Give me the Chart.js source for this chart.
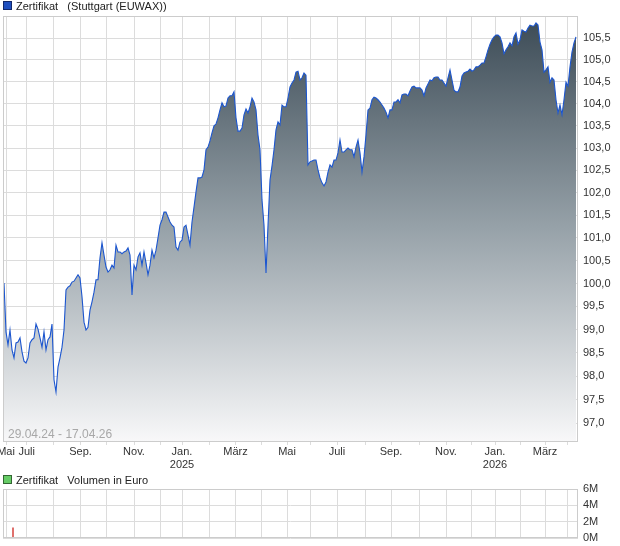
<!DOCTYPE html>
<html>
<head>
<meta charset="utf-8">
<script src="https://cdn.jsdelivr.net/npm/chart.js@4.4.0/dist/chart.umd.min.js"></script>
<style>
  body { margin: 0; background: #fff; font-family: "Liberation Sans", Arial, sans-serif; }
  #wrap { position: relative; width: 620px; height: 546px; overflow: hidden; }
  .legend { position: absolute; left: 3px; font-size: 11px; color: #222; white-space: pre; z-index: 2; }
  .box { display: inline-block; width: 7px; height: 7px; border: 1px solid #333; vertical-align: 0px; margin-right: 4px; }
  canvas { position: absolute; left: 0; }
</style>
</head>
<body>
<div id="wrap">
  <div class="legend" style="top:0px"><span class="box" style="background:#1f4fbf;border-color:#13286a"></span>Zertifikat   (Stuttgart (EUWAX))</div>
  <canvas id="main" width="620" height="472" style="top:0"></canvas>
  <div class="legend" style="top:474px"><span class="box" style="background:#66cc66;border-color:#336633"></span>Zertifikat   Volumen in Euro</div>
  <canvas id="vol" width="620" height="68" style="top:478px"></canvas>
</div>
<script>
// price series, one value every ~2 trading days, 29.04.24 - 17.04.26
const priceValues = [
  100.01, 98.95, 98.67, 98.99, 98.56, 98.39, 98.71, 98.73, 98.82, 98.52,
  98.32, 98.28, 98.39, 98.71, 98.78, 98.82, 99.12, 99.01, 98.82, 98.62,
  98.95, 98.56, 98.78, 98.84, 99.12, 97.92, 97.66, 98.19, 98.39, 98.62,
  98.99, 99.86, 99.92, 99.95, 100.03, 100.05, 100.12, 100.19, 100.12, 99.71,
  99.16, 98.99, 99.05, 99.42, 99.60, 99.81, 100.08, 100.08, 100.56, 100.89,
  100.62, 100.36, 100.25, 100.30, 100.40, 100.34, 100.84, 100.69, 100.69, 100.65,
  100.69, 100.71, 100.78, 100.62, 99.75, 100.40, 100.30, 100.58, 100.67, 100.40,
  100.69, 100.45, 100.19, 100.40, 100.73, 100.56, 100.73, 101.00, 101.28, 101.40,
  101.57, 101.57, 101.46, 101.35, 101.28, 101.24, 100.80, 100.73, 100.91, 100.95,
  101.24, 101.28, 101.06, 100.84, 101.35, 101.68, 102.02, 102.33, 102.33, 102.35,
  102.51, 102.96, 103.02, 103.16, 103.34, 103.50, 103.54, 103.68, 103.86, 104.02,
  103.93, 103.95, 104.13, 104.18, 104.18, 104.27, 103.68, 103.38, 103.38, 103.45,
  103.75, 103.88, 103.79, 103.93, 104.13, 104.04, 103.86, 103.29, 102.96, 101.84,
  101.28, 100.23, 101.28, 102.28, 102.60, 102.96, 103.41, 103.59, 103.52, 103.97,
  103.93, 103.93, 104.13, 104.38, 104.47, 104.54, 104.72, 104.74, 104.54, 104.59,
  104.70, 104.65, 102.62, 102.69, 102.71, 102.73, 102.73, 102.51, 102.33, 102.22,
  102.15, 102.24, 102.46, 102.62, 102.57, 102.73, 102.73, 102.89, 103.18, 102.91,
  102.91, 102.96, 103.00, 102.96, 102.96, 102.80, 103.02, 103.18, 102.89, 102.46,
  102.80, 103.29, 103.86, 103.90, 104.09, 104.15, 104.13, 104.09, 104.04, 103.97,
  103.90, 103.81, 103.68, 103.86, 103.86, 104.04, 104.04, 104.09, 104.02, 104.20,
  104.22, 104.22, 104.18, 104.29, 104.38, 104.40, 104.36, 104.36, 104.36, 104.31,
  104.18, 104.36, 104.45, 104.54, 104.52, 104.59, 104.61, 104.61, 104.54, 104.54,
  104.47, 104.40, 104.59, 104.77, 104.54, 104.31, 104.27, 104.27, 104.38, 104.63,
  104.70, 104.72, 104.74, 104.79, 104.74, 104.77, 104.84, 104.84, 104.88, 104.93,
  104.93, 105.07, 105.23, 105.36, 105.46, 105.53, 105.57, 105.57, 105.53, 105.39,
  105.14, 105.23, 105.30, 105.39, 105.32, 105.53, 105.62, 105.36, 105.46, 105.69,
  105.66, 105.64, 105.73, 105.80, 105.78, 105.78, 105.85, 105.80, 105.41, 105.23,
  104.72, 104.77, 104.84, 104.49, 104.59, 104.54, 104.09, 103.79, 103.97, 103.75,
  104.09, 104.49, 104.40, 104.84, 105.18, 105.39, 105.53
];

// month starts on the same index axis
const monthTicks = [1, 11.35, 24.75, 38.25, 51.25, 65, 78.25, 89, 102.75, 115.75, 128.5,
  141.5, 153.5, 166.5, 180.5, 193.5, 207.5, 221, 233.5, 245.5, 258, 270.5, 281.5];
const monthLabels = ['Mai', 'Juli', '', 'Sep.', '', 'Nov.', '', ['Jan.', '2025'], '', 'März', '',
  'Mai', '', 'Juli', '', 'Sep.', '', 'Nov.', '', ['Jan.', '2026'], '', 'März', ''];

const priceTicks = [97.0, 97.5, 98.0, 98.5, 99.0, 99.5, 100.0, 100.5, 101.0, 101.5, 102.0,
  102.5, 103.0, 103.5, 104.0, 104.5, 105.0, 105.5];

const volumeDays = [4.5];
const volumeValues = [1250000];
const volumeTicks = [0, 2000000, 4000000, 6000000];

const FONT = { family: '"Liberation Sans", Arial, sans-serif', size: 11 };
const GRID = '#dcdcdc';

Chart.defaults.animation = false;

const frame = {
  id: 'frame',
  afterDraw(chart, args, opts) {
    const a = chart.chartArea, c = chart.ctx;
    c.save();
    c.strokeStyle = '#cccccc';
    c.lineWidth = 1;
    c.strokeRect(Math.round(a.left) + 0.5, Math.round(a.top) + 0.5,
      Math.round(a.right - a.left) - 1, Math.round(a.bottom - a.top) - 1);
    if (opts.text) {
      c.fillStyle = '#a8a8a8';
      c.font = '12px "Liberation Sans", Arial, sans-serif';
      c.textBaseline = 'alphabetic';
      c.fillText(opts.text, a.left + 5, a.bottom - 4);
    }
    c.restore();
  }
};

const xAxis = (showLabels) => ({
  type: 'linear',
  min: -0.5,
  max: 287,
  offset: false,
  afterBuildTicks: s => { s.ticks = monthTicks.map(v => ({ value: v })); },
  afterFit: s => { s.paddingLeft = 0; s.paddingRight = 0; s.height = showLabels ? 30 : 0; },
  ticks: {
    display: showLabels, autoSkip: false, maxRotation: 0, minRotation: 0,
    color: '#333', font: FONT, padding: 0,
    callback: (v, i) => monthLabels[i]
  },
  grid: { color: GRID, drawTicks: showLabels, tickLength: 3, offset: false },
  border: { display: false }
});

new Chart(document.getElementById('main'), {
  type: 'line',
  data: {
    datasets: [{
      data: priceValues.map((v, i) => ({ x: i, y: v })),
      borderColor: '#1c56cf',
      borderWidth: 1.1,
      pointRadius: 0,
      tension: 0,
      fill: 'start',
      backgroundColor: ctx => {
        const a = ctx.chart.chartArea;
        if (!a) return '#8a969e';
        const g = ctx.chart.ctx.createLinearGradient(0, a.top, 0, a.bottom);
        g.addColorStop(0, '#3b4a55');
        g.addColorStop(0.5, '#97a2a9');
        g.addColorStop(1, '#f8f8f9');
        return g;
      }
    }]
  },
  options: {
    responsive: false,
    devicePixelRatio: 1,
    layout: { padding: { left: 3, top: 16, right: 0, bottom: 0 } },
    plugins: { legend: { display: false }, tooltip: { enabled: false }, frame: { text: '29.04.24 - 17.04.26' } },
    scales: {
      x: xAxis(true),
      y: {
        type: 'logarithmic',
        position: 'right',
        min: 96.60,
        max: 106.01,
        afterBuildTicks: s => { s.ticks = priceTicks.map(v => ({ value: v })); },
        afterFit: s => { s.width = 42; s.paddingTop = 0; s.paddingBottom = 0; },
        ticks: {
          color: '#333', font: FONT, padding: 5,
          callback: v => Number(v).toFixed(1).replace('.', ',')
        },
        grid: { color: GRID, drawTicks: false },
        border: { display: false }
      }
    }
  },
  plugins: [frame]
});

new Chart(document.getElementById('vol'), {
  type: 'bar',
  data: {
    datasets: [{
      data: volumeDays.map((d, k) => ({ x: d, y: volumeValues[k] })),
      backgroundColor: '#d9534f',
      barThickness: 1
    }]
  },
  options: {
    responsive: false,
    devicePixelRatio: 1,
    layout: { padding: { left: 3, top: 11, right: 0, bottom: 8 } },
    plugins: { legend: { display: false }, tooltip: { enabled: false }, frame: {} },
    scales: {
      x: xAxis(false),
      y: {
        position: 'right',
        min: 0,
        max: 6000000,
        afterBuildTicks: s => { s.ticks = volumeTicks.map(v => ({ value: v })); },
        afterFit: s => { s.width = 42; s.paddingTop = 0; s.paddingBottom = 0; },
        ticks: { color: '#333', font: FONT, padding: 5, callback: v => (v / 1000000) + 'M' },
        grid: { color: GRID, drawTicks: false },
        border: { display: false }
      }
    }
  },
  plugins: [frame]
});
</script>
</body>
</html>
